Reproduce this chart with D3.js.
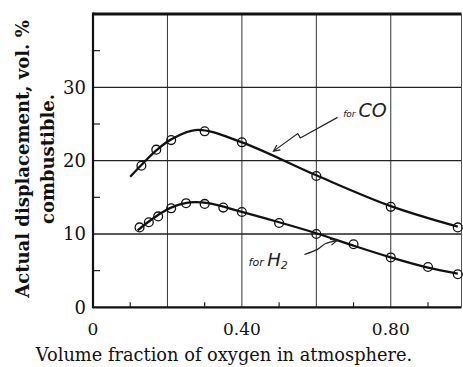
<!DOCTYPE html>
<html>
<head>
<meta charset="utf-8">
<script src="https://cdn.jsdelivr.net/npm/d3@7"></script>
<style>
  html, body { margin: 0; padding: 0; background: #fff; }
  svg { display: block; }
  .serif { font-family: "DejaVu Serif", "Liberation Serif", serif; fill: #111; }
  .hand { font-family: "DejaVu Sans", sans-serif; font-style: italic; fill: #222; }
</style>
</head>
<body>
<div id="chart"></div>
<script>
// measured points for CO
const coX = [0.13, 0.17, 0.21, 0.30, 0.40, 0.60, 0.80, 0.98];
const coY = [19.3, 21.5, 22.8, 24.0, 22.5, 17.9, 13.7, 10.9];
// smooth curve drawn for CO
const coCurveX = [0.10, 0.13, 0.17, 0.21, 0.28, 0.40, 0.60, 0.80, 0.98];
const coCurveY = [17.8, 19.4, 21.4, 22.9, 24.2, 22.5, 18.0, 13.8, 11.0];

// measured points for H2
const h2X = [0.125, 0.15, 0.175, 0.21, 0.25, 0.30, 0.35, 0.40, 0.50, 0.60, 0.70, 0.80, 0.90, 0.98];
const h2Y = [10.9, 11.6, 12.4, 13.5, 14.2, 14.1, 13.6, 13.0, 11.5, 10.0, 8.6, 6.8, 5.5, 4.5];
const h2CurveX = [0.12, 0.15, 0.175, 0.21, 0.26, 0.31, 0.40, 0.50, 0.60, 0.70, 0.80, 0.90, 0.98];
const h2CurveY = [10.5, 11.7, 12.6, 13.6, 14.3, 14.2, 13.0, 11.6, 10.1, 8.4, 6.8, 5.4, 4.6];

const xGrid = [0.2, 0.4, 0.6, 0.8];
const xMinor = [0.1, 0.3, 0.5, 0.7, 0.9];
const xLabels = [0, 0.4, 0.8];
const yGrid = [10, 20, 30];
const yMinor = [5, 15, 25, 35];
const yLabels = [0, 10, 20, 30];

const width = 463, height = 367;
const plotLeft = 93, plotRight = 461.5, plotTop = 14, plotBottom = 307.3;

const svg = d3.select('#chart').append('svg')
  .attr('width', width)
  .attr('height', height);

const x = d3.scaleLinear().domain([0, 0.99]).range([plotLeft, plotRight]);
const y = d3.scaleLinear().domain([0, 40]).range([plotBottom, plotTop]);

// grid
svg.append('g').selectAll('line').data(xGrid).enter().append('line')
  .attr('x1', d => x(d)).attr('x2', d => x(d))
  .attr('y1', plotTop).attr('y2', plotBottom)
  .attr('stroke', '#333').attr('stroke-width', 1);
svg.append('g').selectAll('line').data(yGrid).enter().append('line')
  .attr('x1', plotLeft).attr('x2', plotRight)
  .attr('y1', d => y(d)).attr('y2', d => y(d))
  .attr('stroke', '#222').attr('stroke-width', 1.4);

// minor ticks, inside the frame
svg.append('g').selectAll('line').data(yMinor).enter().append('line')
  .attr('x1', plotLeft).attr('x2', plotLeft + 7)
  .attr('y1', d => y(d)).attr('y2', d => y(d))
  .attr('stroke', '#222').attr('stroke-width', 1.2);
svg.append('g').selectAll('line').data(xMinor).enter().append('line')
  .attr('x1', d => x(d)).attr('x2', d => x(d))
  .attr('y1', plotBottom).attr('y2', plotBottom - 5)
  .attr('stroke', '#222').attr('stroke-width', 1.2);

// frame
svg.append('line').attr('x1', plotLeft).attr('x2', plotRight).attr('y1', plotTop).attr('y2', plotTop)
  .attr('stroke', '#111').attr('stroke-width', 3);
svg.append('line').attr('x1', plotLeft).attr('x2', plotRight).attr('y1', plotBottom).attr('y2', plotBottom)
  .attr('stroke', '#111').attr('stroke-width', 2.2);
svg.append('line').attr('x1', plotLeft).attr('x2', plotLeft).attr('y1', plotTop - 1.5).attr('y2', plotBottom + 1)
  .attr('stroke', '#111').attr('stroke-width', 2.2);
svg.append('line').attr('x1', plotRight).attr('x2', plotRight).attr('y1', plotTop).attr('y2', plotBottom)
  .attr('stroke', '#555').attr('stroke-width', 1);

// tick labels
svg.append('g').selectAll('text').data(yLabels).enter().append('text')
  .attr('class', 'serif')
  .attr('x', plotLeft - 7).attr('y', d => y(d) + 6.5)
  .attr('text-anchor', 'end')
  .style('font-size', '18px')
  .text(d => d);
svg.append('g').selectAll('text').data(xLabels).enter().append('text')
  .attr('class', 'serif')
  .attr('x', d => x(d)).attr('y', 335)
  .attr('text-anchor', 'middle')
  .style('font-size', '17px')
  .text(d => d === 0 ? '0' : d.toFixed(2));

// axis titles
svg.append('text').attr('class', 'serif')
  .attr('x', 224).attr('y', 361)
  .attr('text-anchor', 'middle')
  .style('font-size', '17.8px')
  .text('Volume fraction of oxygen in atmosphere.');

const yt = svg.append('text').attr('class', 'serif')
  .attr('transform', 'translate(29,159) rotate(-90)')
  .attr('text-anchor', 'middle')
  .style('font-size', '18px')
  .style('font-weight', 'bold');
yt.append('tspan').attr('x', 0).attr('y', 0).text('Actual displacement, vol. %');
yt.append('tspan').attr('x', 0).attr('y', 25).text('combustible.');

// curves
const line = d3.line().x(d => x(d[0])).y(d => y(d[1])).curve(d3.curveCatmullRom.alpha(0.5));
svg.append('path')
  .attr('d', line(d3.zip(coCurveX, coCurveY)))
  .attr('fill', 'none').attr('stroke', '#111').attr('stroke-width', 2.3);
svg.append('path')
  .attr('d', line(d3.zip(h2CurveX, h2CurveY)))
  .attr('fill', 'none').attr('stroke', '#111').attr('stroke-width', 2.3);

// markers
const pts = d3.zip(coX, coY).concat(d3.zip(h2X, h2Y));
svg.append('g').selectAll('circle').data(pts).enter().append('circle')
  .attr('cx', d => x(d[0])).attr('cy', d => y(d[1]))
  .attr('r', 4.4)
  .attr('fill', 'none').attr('stroke', '#111').attr('stroke-width', 1.3);

// hand-written labels with arrows (data coordinates)
const coArrow = [[0.657, 25.9], [0.557, 23.1], [0.550, 23.7], [0.485, 21.3]];
const h2Arrow = [[0.568, 7.2], [0.603, 7.9], [0.625, 8.7], [0.655, 9.1]];
const plain = d3.line().x(d => x(d[0])).y(d => y(d[1]));
const smooth = d3.line().x(d => x(d[0])).y(d => y(d[1])).curve(d3.curveCatmullRom);

svg.append('path').attr('d', plain(coArrow))
  .attr('fill', 'none').attr('stroke', '#222').attr('stroke-width', 1.2);
svg.append('path').attr('d', smooth(h2Arrow))
  .attr('fill', 'none').attr('stroke', '#222').attr('stroke-width', 1.2);

function arrowHead(p) {
  const a = p[p.length - 2], b = p[p.length - 1];
  const bx = x(b[0]), by = y(b[1]);
  const ang = Math.atan2(by - y(a[1]), bx - x(a[0]));
  const len = 7, spread = 0.45;
  const p1 = [bx - len * Math.cos(ang - spread), by - len * Math.sin(ang - spread)];
  const p2 = [bx - len * Math.cos(ang + spread), by - len * Math.sin(ang + spread)];
  svg.append('path')
    .attr('d', `M${p1[0]},${p1[1]}L${bx},${by}L${p2[0]},${p2[1]}`)
    .attr('fill', 'none').attr('stroke', '#222').attr('stroke-width', 1.2);
}
arrowHead(coArrow);
arrowHead(h2Arrow);

const coLabel = svg.append('text').attr('class', 'hand')
  .attr('x', x(0.672)).attr('y', y(25.9));
coLabel.append('tspan').style('font-size', '9px').text('for ');
coLabel.append('tspan').style('font-size', '19px').text('CO');

const h2Label = svg.append('text').attr('class', 'hand')
  .attr('x', x(0.418)).attr('y', y(5.6));
h2Label.append('tspan').style('font-size', '11px').text('for ');
h2Label.append('tspan').style('font-size', '18px').text('H');
h2Label.append('tspan').style('font-size', '11px').attr('dy', 3).text('2');
</script>
</body>
</html>
